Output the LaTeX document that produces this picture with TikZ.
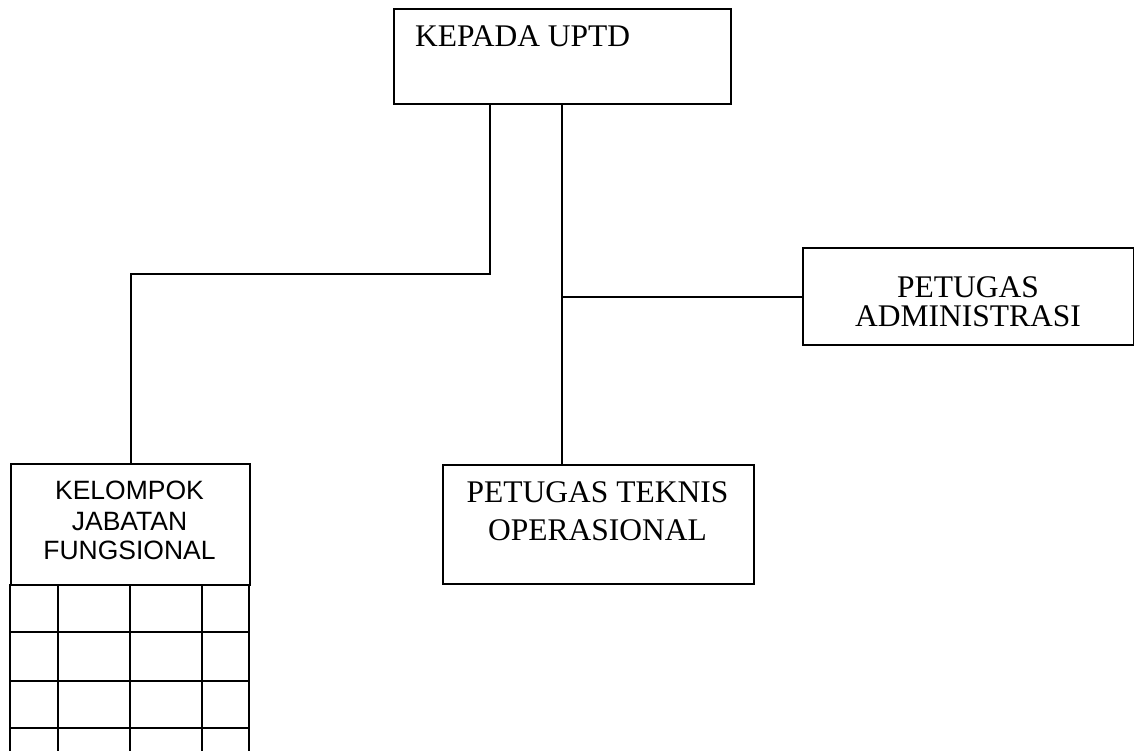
\documentclass[tikz,border=0pt]{standalone}
\usepackage{fontspec}
\setmainfont{Liberation Serif}
\newfontfamily\arialfont{Liberation Sans}
\begin{document}
\begin{tikzpicture}[x=1pt,y=-1pt,
  box/.style={draw=black, line width=2pt, rectangle, inner sep=0pt, anchor=north west},
  serif/.style={font=\fontsize{31.5}{31.5}\selectfont, inner sep=0pt, anchor=base},
  sans/.style={font=\arialfont\fontsize{26.5}{26.5}\selectfont, inner sep=0pt, anchor=base},
  link/.style={draw=black, line width=2pt}]
\useasboundingbox (0,0) rectangle (1134,751);
\clip (0,0) rectangle (1134,751);
% boxes
\node[box, minimum width=337pt, minimum height=95pt] (uptd) at (393,8) {};
\node[box, minimum width=331pt, minimum height=97pt] (admin) at (802,247) {};
\node[box, minimum width=311pt, minimum height=119pt] (teknis) at (442,464) {};
\node[box, minimum width=239pt, minimum height=121pt] (kjf) at (10,463) {};
% texts
\node[serif, anchor=base west] (uptdtxt) at (415,47) {KEPADA UPTD};
\node[serif] (adm1) at (968,297) {PETUGAS};
\node[serif] (adm2) at (968,326) {ADMINISTRASI};
\node[serif] (tek1) at (597.5,502) {PETUGAS TEKNIS};
\node[serif] (tek2) at (597.5,540) {OPERASIONAL};
\node[sans] (k1) at (129.5,499) {KELOMPOK};
\node[sans] (k2) at (129.5,530) {JABATAN};
\node[sans] (k3) at (129.5,559) {FUNGSIONAL};
% connectors
\draw[link] ([xshift=97pt]uptd.south west) -- ++(0,169) -| (kjf.north);
\draw[link] ([xshift=169pt]uptd.south west) coordinate (top2) -- (top2 |- teknis.north);
\draw[link] (top2 |- admin.west) -- (admin.west);
% grid below the functional group box
\foreach \x in {10,58,130,202,249} \draw[link] (\x,584) -- (\x,770);
\foreach \y in {632,681,728} \draw[link] (10,\y) -- (249,\y);
\end{tikzpicture}
\end{document}
